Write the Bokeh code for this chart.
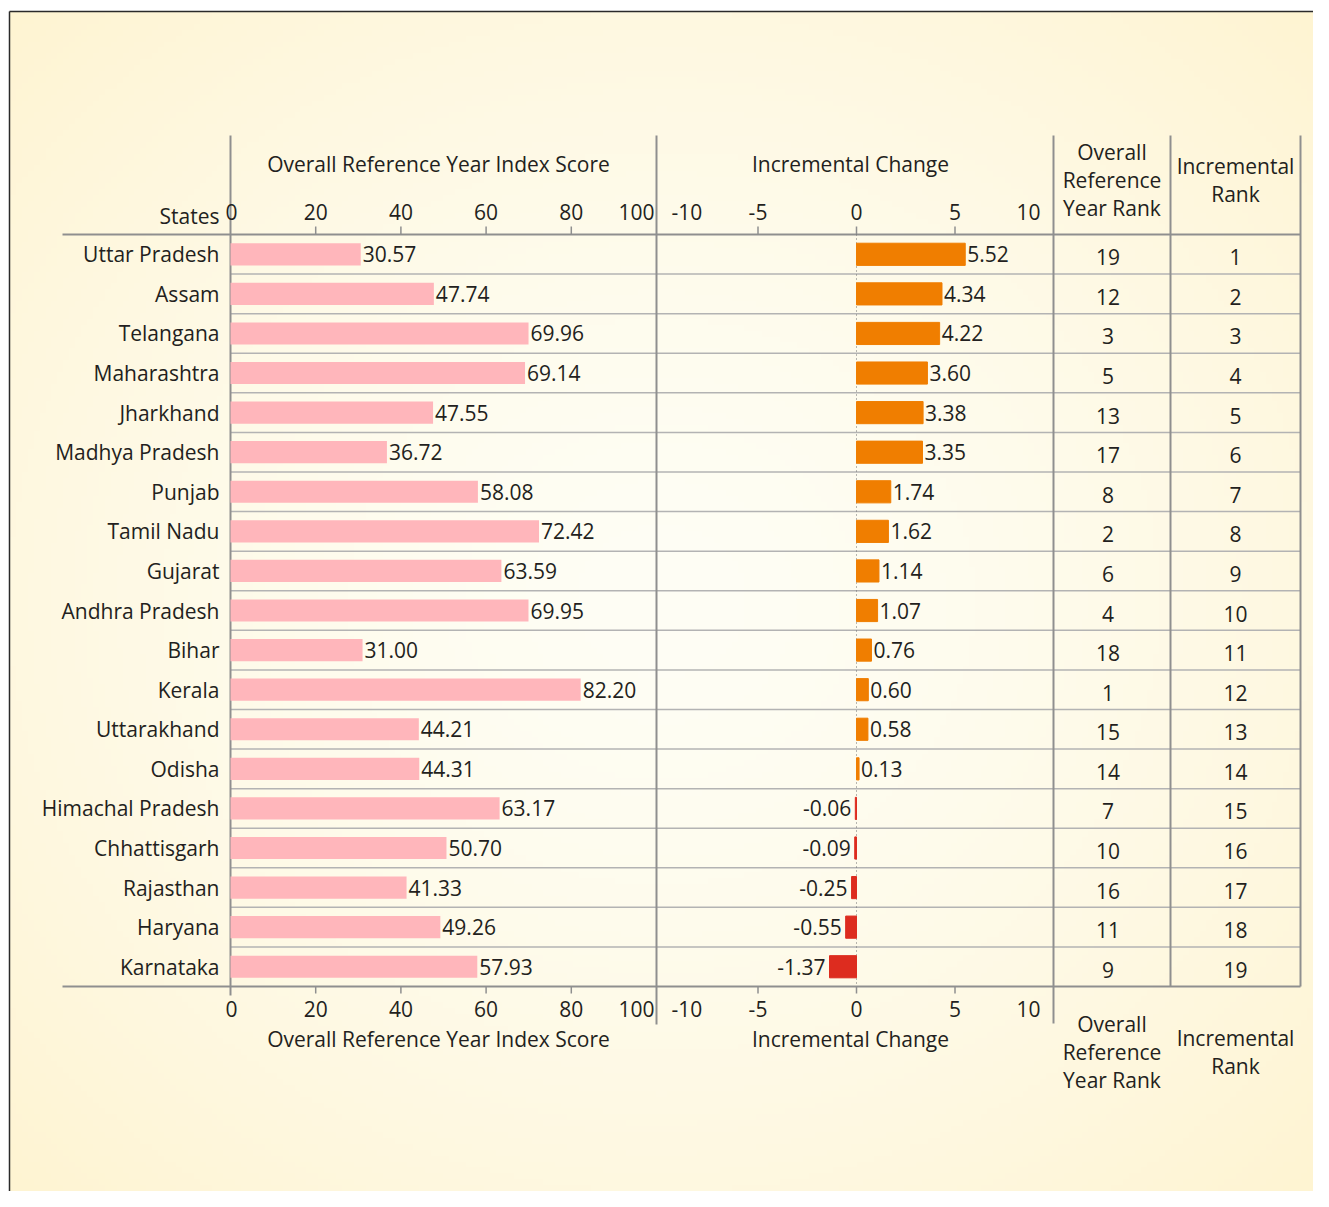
import numpy as np
from bokeh.plotting import figure
from bokeh.models import Range1d
from bokeh.core.properties import value
from bokeh.embed import file_html
from bokeh.resources import INLINE

# ---------------- data ----------------
states = ["Uttar Pradesh", "Assam", "Telangana", "Maharashtra", "Jharkhand",
          "Madhya Pradesh", "Punjab", "Tamil Nadu", "Gujarat", "Andhra Pradesh",
          "Bihar", "Kerala", "Uttarakhand", "Odisha", "Himachal Pradesh",
          "Chhattisgarh", "Rajasthan", "Haryana", "Karnataka"]
scores = [30.57, 47.74, 69.96, 69.14, 47.55, 36.72, 58.08, 72.42, 63.59, 69.95,
          31.00, 82.20, 44.21, 44.31, 63.17, 50.70, 41.33, 49.26, 57.93]
changes = [5.52, 4.34, 4.22, 3.60, 3.38, 3.35, 1.74, 1.62, 1.14, 1.07,
           0.76, 0.60, 0.58, 0.13, -0.06, -0.09, -0.25, -0.55, -1.37]
ref_ranks = [19, 12, 3, 5, 13, 17, 8, 2, 6, 4, 18, 1, 15, 14, 7, 10, 16, 11, 9]
inc_ranks = list(range(1, 20))
score_ticks = [0, 20, 40, 60, 80, 100]
change_ticks = [-10, -5, 0, 5, 10]
score_title = "Overall Reference Year Index Score"
change_title = "Incremental Change"
rank1_title = "Overall\nReference\nYear Rank"
rank2_title = "Incremental\nRank"
states_title = "States"

# ---------------- layout / style ----------------
W, H = 1313, 1191
FONT = value("Open Sans")
FS = "21px"
TXT = "#231F20"
GRID = "#8f8f8f"
SEP = "#b3b3b3"
PINK = "#FFB6BB"
ORANGE = "#F07E00"
RED = "#DD2C1F"

SC0, SC100 = 230.0, 656.0          # canvas px of score 0 / 100
CH0, CHK = 856.0, 19.7             # canvas px of change 0, px per unit
ROW0, ROWH = 253.8, 39.58          # first row centre, row pitch
LEFT, TBL = 62.0, [1053.0, 1170.0, 1300.0]
TOPV = 135.0
n = len(states)
k = (SC100 - SC0) / 100.0

p = figure(width=W, height=H,
           x_range=Range1d(-SC0 / k, (W - SC0) / k),
           y_range=Range1d((H - ROW0) / ROWH, -ROW0 / ROWH),
           output_backend="svg", toolbar_location=None,
           x_axis_location=None, y_axis_location=None,
           min_border=0, outline_line_color=None,
           background_fill_color="white", border_fill_color="white")
p.grid.visible = False
p.extra_x_ranges = {"chg": Range1d(-CH0 / CHK, (W - CH0) / CHK), "px": Range1d(0, W)}
p.extra_y_ranges = {"py": Range1d(H, 0)}

# background gradient
gh, gw = 200, 220
yy, xx = np.mgrid[0:gh, 0:gw]
d = np.sqrt(((xx / (gw - 1) - 0.5) / 0.5) ** 2 + ((yy / (gh - 1) - 0.5) / 0.5) ** 2) / np.sqrt(2)
t = np.clip(d, 0, 1) ** 1.5
c0 = np.array([255, 254, 245])
c1 = np.array([254, 244, 210])
rgb = c0[None, None, :] * (1 - t[..., None]) + c1[None, None, :] * t[..., None]
img = np.empty((gh, gw), dtype=np.uint32)
view = img.view(dtype=np.uint8).reshape((gh, gw, 4))
view[..., 0] = rgb[..., 0]
view[..., 1] = rgb[..., 1]
view[..., 2] = rgb[..., 2]
view[..., 3] = 255
p.image_rgba(image=[img], x=9, y=11, dw=W - 9, dh=H - 11, x_range_name="px", y_range_name="py")

# outer frame (left + top)
p.segment(x0=[9, 9], y0=[11, 11], x1=[W, 9], y1=[11, H], x_range_name="px", y_range_name="py",
          line_color="#2a2a2a", line_width=1.5)

# row separators
seps = [i + 0.5 for i in range(n - 1)]
p.segment(x0=[SC0] * len(seps), y0=seps, x1=[TBL[-1]] * len(seps), y1=seps,
          x_range_name="px", line_color=SEP, line_width=1.5)
# header / bottom rules
p.segment(x0=[LEFT, LEFT], y0=[-0.5, n - 0.5], x1=[TBL[-1], TBL[-1]], y1=[-0.5, n - 0.5],
          x_range_name="px", line_color=GRID, line_width=2)

# vertical rules
p.segment(x0=[0, 100], y0=[TOPV, TOPV], x1=[0, 100], y1=[995, 1024],
          y_range_name="py", line_color=GRID, line_width=2)
p.segment(x0=[10], y0=[TOPV], x1=[10], y1=[1023], x_range_name="chg",
          y_range_name="py", line_color=GRID, line_width=2)
p.segment(x0=TBL[1:], y0=[TOPV] * 2, x1=TBL[1:], y1=[986, 986], x_range_name="px",
          y_range_name="py", line_color=GRID, line_width=2)

# ticks
st = score_ticks[1:-1]
ct = [c for c in change_ticks if abs(c) < 10]
p.segment(x0=st * 2, x1=st * 2, y0=[226] * len(st) + [986] * len(st),
          y1=[234] * len(st) + [993] * len(st), y_range_name="py", line_color=GRID, line_width=1.5)
p.segment(x0=ct * 2, x1=ct * 2, y0=[226] * len(ct) + [986] * len(ct),
          y1=[234] * len(ct) + [993] * len(ct), x_range_name="chg", y_range_name="py",
          line_color=GRID, line_width=1.5)

# zero line for change
p.segment(x0=[0], x1=[0], y0=[-0.5], y1=[n - 0.5], x_range_name="chg",
          line_color="#6f6f6f", line_width=1, line_dash="1 3")

# bars
rows = list(range(n))
p.hbar(y=rows, left=0, right=scores, height=0.56, fill_color=PINK, line_color=None)
ccol = [ORANGE if c >= 0 else RED for c in changes]
p.hbar(y=rows, left=0, right=changes, height=0.56, fill_color=ccol, line_color=ccol,
       line_width=1, x_range_name="chg")

txt = dict(text_font=FONT, text_font_size=FS, text_color=TXT)

# value labels
p.text(x=scores, y=rows, text=[f"{s:.2f}" for s in scores], x_offset=2,
       text_align="left", text_baseline="middle", **txt)
pos = [i for i, c in enumerate(changes) if c >= 0]
neg = [i for i, c in enumerate(changes) if c < 0]
p.text(x=[changes[i] for i in pos], y=pos, text=[f"{changes[i]:.2f}" for i in pos],
       x_offset=2, text_align="left", text_baseline="middle", x_range_name="chg", **txt)
p.text(x=[changes[i] for i in neg], y=neg, text=[f"{changes[i]:.2f}" for i in neg],
       x_offset=-4, text_align="right", text_baseline="middle", x_range_name="chg", **txt)

# state labels
p.text(x=[0] * n, y=rows, text=states, x_offset=-11, text_align="right",
       text_baseline="middle", **txt)

# ranks
c1x = (TBL[0] + TBL[1]) / 2 - 4
c2x = (TBL[1] + TBL[2]) / 2
p.text(x=[c1x] * n, y=rows, text=[str(r) for r in ref_ranks], y_offset=3,
       text_align="center", text_baseline="middle", x_range_name="px", **txt)
p.text(x=[c2x] * n, y=rows, text=[str(r) for r in inc_ranks], y_offset=3,
       text_align="center", text_baseline="middle", x_range_name="px", **txt)

# tick labels (top and bottom)
def score_labels(yv):
    offs, al = [], []
    for v in score_ticks:
        if v == 100:
            offs.append(-2); al.append("right")
        elif v == 0:
            offs.append(1); al.append("center")
        else:
            offs.append(0); al.append("center")
    p.text(x=score_ticks, y=[yv] * len(score_ticks), text=[str(v) for v in score_ticks],
           x_offset=offs, text_align=al, text_baseline="middle", y_range_name="py", **txt)

def change_labels(yv):
    offs, al = [], []
    for v in change_ticks:
        if v == -10:
            offs.append(12); al.append("left")
        elif v == 10:
            offs.append(-13); al.append("right")
        else:
            offs.append(0); al.append("center")
    p.text(x=change_ticks, y=[yv] * len(change_ticks), text=[str(v) for v in change_ticks],
           x_offset=offs, text_align=al, text_baseline="middle", y_range_name="py",
           x_range_name="chg", **txt)

for yv in (211, 1008):
    score_labels(yv)
    change_labels(yv)

# axis titles
for yv in (163, 1038):
    p.text(x=[50], y=[yv], text=[score_title], x_offset=-5, text_align="center",
           text_baseline="middle", y_range_name="py", **txt)
    p.text(x=[0], y=[yv], text=[change_title], x_offset=-6, text_align="center",
           text_baseline="middle", y_range_name="py", x_range_name="chg", **txt)

p.text(x=[0], y=[215], text=[states_title], x_offset=-11, text_align="right",
       text_baseline="middle", y_range_name="py", **txt)

# rank headers
for yv in (179, 1051):
    p.text(x=[c1x + 4, c2x], y=[yv, yv], text=[rank1_title, rank2_title],
           text_align="center", text_baseline="middle", text_line_height=1.0,
           x_range_name="px", y_range_name="py", **txt)

open("out.html", "w").write(file_html(p, INLINE))
